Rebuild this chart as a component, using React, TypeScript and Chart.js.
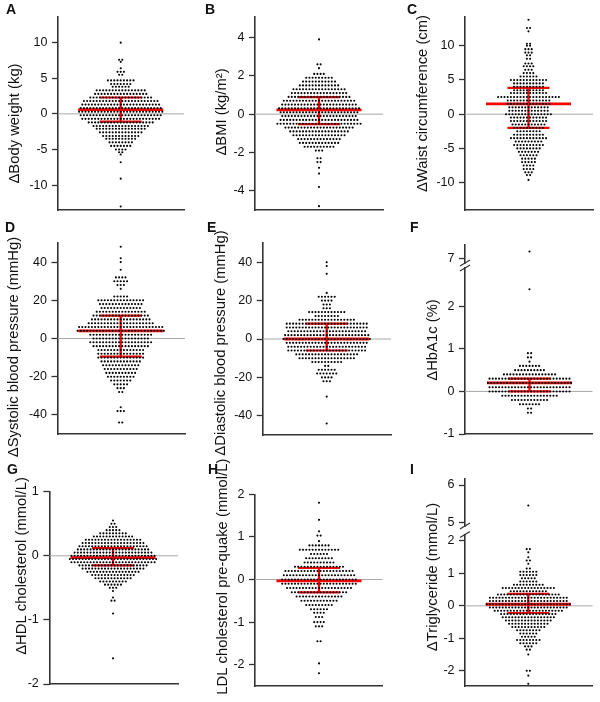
import React, { useEffect, useRef } from "react";
import { Chart, registerables } from "chart.js";

Chart.register(...registerables);

type Row = [number, number]; // [value, number of participants at that value]

// ---------- A: ΔBody weight (kg) ----------
const bodyWeightRows: Row[] = [
  [10.0, 1], [7.6, 2], [7.3, 1], [6.4, 1], [5.9, 3], [5.5, 2], [4.7, 9], [4.2, 7], [3.8, 6],
  [3.3, 16], [2.8, 17], [2.3, 20], [1.8, 24], [1.3, 25], [0.8, 26], [0.3, 27], [-0.2, 26],
  [-0.7, 25], [-1.2, 21], [-1.7, 18], [-2.1, 16], [-2.6, 14], [-3.1, 12], [-3.5, 10], [-4.0, 8],
  [-4.5, 7], [-5.0, 4], [-5.4, 2], [-5.7, 1], [-6.8, 1], [-9.1, 1], [-13.0, 1],
];
const bodyWeightSummary = [0.6, 2.3, -1.1]; // centre, upper, lower
const bodyWeightTicks = [10, 5, 0, -5, -10];

// ---------- B: ΔBMI (kg/m²) ----------
const bmiRows: Row[] = [
  [3.9, 1], [2.6, 2], [2.4, 1], [2.1, 4], [1.9, 9], [1.7, 11], [1.5, 13], [1.3, 17], [1.1, 18],
  [0.9, 20], [0.7, 23], [0.5, 24], [0.3, 26], [0.1, 25], [-0.1, 24], [-0.3, 25], [-0.5, 27],
  [-0.7, 22], [-0.9, 19], [-1.1, 17], [-1.3, 14], [-1.5, 13], [-1.7, 10], [-1.9, 3], [-2.3, 2],
  [-2.5, 2], [-2.8, 1], [-3.1, 1], [-3.8, 1], [-4.8, 1],
];
const bmiSummary = [0.22, 0.89, -0.52];
const bmiTicks = [4, 2, 0, -2, -4];

// ---------- C: ΔWaist circumference (cm) ----------
const waistRows: Row[] = [
  [13.8, 1], [12.6, 2], [12.1, 1], [10.3, 2], [10.0, 2], [9.5, 3], [9.0, 3], [8.6, 2], [8.1, 2],
  [7.4, 3], [7.0, 4], [6.5, 3], [6.0, 4], [5.5, 6], [5.0, 12], [4.5, 10], [4.0, 10], [3.5, 10],
  [3.1, 12], [2.5, 20], [2.0, 14], [1.5, 14], [1.0, 13], [0.5, 13], [0.0, 15], [-0.5, 12],
  [-1.0, 12], [-1.5, 11], [-2.0, 10], [-2.5, 8], [-3.0, 10], [-3.5, 12], [-4.0, 9], [-4.5, 10],
  [-5.0, 8], [-5.5, 7], [-6.0, 6], [-6.5, 5], [-7.0, 5], [-7.5, 4], [-8.0, 4], [-8.5, 3],
  [-8.9, 2], [-9.6, 1],
];
const waistSummary = [1.5, 3.85, -2.0];
const waistTicks = [10, 5, 0, -5, -10];

// ---------- D: ΔSystolic blood pressure (mmHg) ----------
const sbpRows: Row[] = [
  [48, 1], [42, 1], [40, 1], [36, 1], [32, 4], [30, 5], [28, 3], [26, 1], [22, 5], [20, 15],
  [18, 14], [16, 13], [14, 16], [12, 18], [10, 19], [8, 21], [6, 27], [4, 28], [2, 20], [0, 18],
  [-2, 20], [-4, 18], [-6, 15], [-8, 15], [-10, 15], [-12, 13], [-14, 12], [-16, 11], [-18, 10],
  [-20, 9], [-22, 7], [-24, 5], [-26, 3], [-28, 2], [-36, 1], [-38, 3], [-44, 2],
];
const sbpSummary = [4, 12, -9.5];
const sbpTicks = [40, 20, 0, -20, -40];

// ---------- E: ΔDiastolic blood pressure (mmHg) ----------
const dbpRows: Row[] = [
  [40, 1], [38, 1], [34, 1], [24, 1], [22, 6], [20, 4], [18, 3], [16, 3], [14, 12], [12, 8],
  [10, 18], [8, 26], [6, 26], [4, 25], [2, 27], [0, 28], [-2, 26], [-4, 25], [-6, 25], [-8, 20],
  [-10, 18], [-12, 10], [-14, 2], [-16, 6], [-18, 7], [-20, 4], [-22, 3], [-30, 1], [-44, 1],
];
const dbpSummary = [0, 8, -6];
const dbpTicks = [40, 20, 0, -20, -40];

// ---------- F: ΔHbA1c (%) (broken axis) ----------
const hba1cUpperRows: Row[] = [[7.2, 1]];
const hba1cRows: Row[] = [
  [2.4, 1], [0.9, 2], [0.8, 2], [0.7, 1], [0.6, 7], [0.5, 10], [0.4, 17], [0.3, 26], [0.2, 27],
  [0.1, 26], [0.0, 26], [-0.1, 18], [-0.2, 12], [-0.3, 7], [-0.4, 2], [-0.5, 2],
];
const hba1cSummary = [0.2, 0.3, 0.0];
const hba1cUpperTicks = [7];
const hba1cTicks = [2, 1, 0, -1];

// ---------- G: ΔHDL cholesterol (mmol/L) ----------
const hdlRows: Row[] = [
  [0.55, 1], [0.5, 2], [0.45, 3], [0.4, 5], [0.35, 9], [0.3, 13], [0.25, 18], [0.2, 20],
  [0.15, 22], [0.1, 23], [0.05, 25], [0.0, 27], [-0.05, 28], [-0.1, 27], [-0.15, 22], [-0.2, 20],
  [-0.25, 17], [-0.3, 14], [-0.35, 12], [-0.4, 9], [-0.45, 6], [-0.5, 3], [-0.55, 1], [-0.65, 1],
  [-0.7, 2], [-0.9, 1], [-1.6, 1],
];
const hdlSummary = [-0.03, 0.12, -0.15];
const hdlTicks = [1, 0, -1, -2];

// ---------- H: LDL cholesterol pre-quake (mmol/L) ----------
const ldlRows: Row[] = [
  [1.8, 1], [1.4, 1], [1.13, 1], [1.03, 2], [0.9, 1], [0.8, 7], [0.7, 13], [0.6, 6], [0.5, 9],
  [0.4, 10], [0.3, 16], [0.2, 22], [0.1, 23], [0.0, 24], [-0.1, 24], [-0.2, 21], [-0.3, 18],
  [-0.4, 15], [-0.5, 12], [-0.6, 9], [-0.7, 6], [-0.78, 4], [-0.88, 3], [-1.0, 4], [-1.1, 3],
  [-1.45, 2], [-1.97, 1], [-2.2, 1],
];
const ldlSummary = [-0.03, 0.27, -0.3];
const ldlTicks = [2, 1, 0, -1, -2];

// ---------- I: ΔTriglyceride (mmol/L) (broken axis) ----------
const tgUpperRows: Row[] = [[5.45, 1]];
const tgRows: Row[] = [
  [1.75, 2], [1.65, 1], [1.5, 1], [1.4, 2], [1.3, 1], [1.15, 2], [1.05, 6], [0.95, 6], [0.85, 5],
  [0.75, 6], [0.65, 10], [0.55, 17], [0.45, 12], [0.35, 20], [0.25, 25], [0.15, 25], [0.05, 27],
  [-0.05, 25], [-0.15, 22], [-0.25, 18], [-0.35, 17], [-0.45, 15], [-0.55, 13], [-0.65, 11],
  [-0.75, 8], [-0.85, 6], [-0.95, 5], [-1.05, 8], [-1.15, 6], [-1.25, 3], [-1.35, 2], [-1.5, 1],
  [-2.0, 2], [-2.15, 1], [-2.4, 1],
];
const tgSummary = [0.05, 0.37, -0.22];
const tgUpperTicks = [6, 5];
const tgTicks = [2, 1, 0, -1, -2];

const panelLetters = ["A", "B", "C", "D", "E", "F", "G", "H", "I"];
const panelTitles = [
  "ΔBody weight (kg)",
  "ΔBMI (kg/m²)",
  "ΔWaist circumference (cm)",
  "ΔSystolic blood pressure (mmHg)",
  "ΔDiastolic blood pressure (mmHg)",
  "ΔHbA1c (%)",
  "ΔHDL cholesterol (mmol/L)",
  "LDL cholesterol pre-quake (mmol/L)",
  "ΔTriglyceride (mmol/L)",
];

// ---------- styling / layout ----------
const FONT = '"Liberation Sans", Arial, Helvetica, sans-serif';
const PITCH = 3.2; // horizontal spacing of dots in a swarm row (px)
const DOT_R = 1.05;
const MEAN_HALF = 42.5;
const BAR_HALF = 21;
const RED = "#ff0000";
const AXIS = "#333333";

interface Upper {
  rows: Row[];
  ticks: number[];
  min: number;
  max: number;
  bottom: number; // px (local) where upper segment ends
  gapBottom: number; // px (local) where lower segment starts
}

interface PanelSpec {
  idx: number;
  x: number; y: number; w: number; h: number; // canvas box
  axisX: number; top: number; bottom: number; right: number; centerX: number;
  labelX: number; labelY: number; letterX: number; letterY: number;
  min: number; max: number; ticks: number[];
  rows: Row[]; summary: number[];
  upper?: Upper;
}

const PANELS: PanelSpec[] = [
  { idx: 0, x: 0, y: 0, w: 200, h: 225, axisX: 58, top: 17, bottom: 210, right: 184, centerX: 120.7,
    labelX: 14.5, labelY: 123.5, letterX: 6, letterY: 10, min: -13.5, max: 13.6, ticks: bodyWeightTicks,
    rows: bodyWeightRows, summary: bodyWeightSummary },
  { idx: 1, x: 200, y: 0, w: 200, h: 225, axisX: 55, top: 17, bottom: 210, right: 183, centerX: 119,
    labelX: 22, labelY: 112, letterX: 5, letterY: 10, min: -5, max: 5.07, ticks: bmiTicks,
    rows: bmiRows, summary: bmiSummary },
  { idx: 2, x: 400, y: 0, w: 200, h: 225, axisX: 65, top: 17, bottom: 210, right: 193, centerX: 128.5,
    labelX: 23, labelY: 103.5, letterX: 7, letterY: 10, min: -14, max: 14.2, ticks: waistTicks,
    rows: waistRows, summary: waistSummary },
  { idx: 3, x: 0, y: 215, w: 200, h: 245, axisX: 57.5, top: 28, bottom: 219, right: 185, centerX: 120.7,
    labelX: 14, labelY: 132, letterX: 5, letterY: 13, min: -50, max: 50, ticks: sbpTicks,
    rows: sbpRows, summary: sbpSummary },
  { idx: 4, x: 200, y: 215, w: 200, h: 245, axisX: 62.7, top: 28, bottom: 220, right: 191, centerX: 126.7,
    labelX: 21, labelY: 128, letterX: 7, letterY: 13, min: -50, max: 50, ticks: dbpTicks,
    rows: dbpRows, summary: dbpSummary },
  { idx: 5, x: 400, y: 215, w: 200, h: 245, axisX: 65, top: 30, bottom: 219, right: 192.7, centerX: 129.5,
    labelX: 33, labelY: 125, letterX: 10, letterY: 13, min: -1, max: 2.9, ticks: hba1cTicks,
    rows: hba1cRows, summary: hba1cSummary,
    upper: { rows: hba1cUpperRows, ticks: hba1cUpperTicks, min: 6.85, max: 7.4, bottom: 48, gapBottom: 53 } },
  { idx: 6, x: 0, y: 452, w: 200, h: 250, axisX: 49.3, top: 39.7, bottom: 232, right: 178, centerX: 113,
    labelX: 21.7, labelY: 114, letterX: 7, letterY: 18, min: -2, max: 1, ticks: hdlTicks,
    rows: hdlRows, summary: hdlSummary },
  { idx: 7, x: 200, y: 452, w: 200, h: 250, axisX: 55, top: 42.3, bottom: 234, right: 182.7, centerX: 119,
    labelX: 23.3, labelY: 124.7, letterX: 8, letterY: 18, min: -2.5, max: 2, ticks: ldlTicks,
    rows: ldlRows, summary: ldlSummary },
  { idx: 8, x: 400, y: 452, w: 200, h: 250, axisX: 65, top: 26.3, bottom: 234, right: 192.7, centerX: 128.3,
    labelX: 33, labelY: 125, letterX: 10, letterY: 18, min: -2.47, max: 2.2, ticks: tgTicks,
    rows: tgRows, summary: tgSummary,
    upper: { rows: tgUpperRows, ticks: tgUpperTicks, min: 4.9, max: 6.18, bottom: 74, gapBottom: 82.5 } },
];

// beeswarm layout: each row of equal values is spread horizontally around the centre
function swarm(rows: Row[]) {
  const pts: { x: number; y: number }[] = [];
  for (const [v, n] of rows) {
    for (let i = 0; i < n; i++) pts.push({ x: (i - (n - 1) / 2) * PITCH, y: v });
  }
  return pts;
}

const decorPlugin = {
  id: "decor",
  afterDraw(chart: any, _args: any, opts: any) {
    const ctx = chart.ctx as CanvasRenderingContext2D;
    ctx.save();
    ctx.fillStyle = "#111";
    ctx.font = `bold 14px ${FONT}`;
    ctx.textAlign = "left";
    ctx.textBaseline = "middle";
    ctx.fillText(opts.letter, opts.letterX, opts.letterY);
    ctx.font = `14.8px ${FONT}`;
    ctx.translate(opts.labelX, opts.labelY);
    ctx.rotate(-Math.PI / 2);
    ctx.textAlign = "center";
    ctx.fillText(opts.title, 0, 0);
    ctx.restore();
    if (opts.breaks && opts.breaks.length) {
      ctx.save();
      ctx.strokeStyle = AXIS;
      ctx.lineWidth = 1.3;
      for (const by of opts.breaks) {
        ctx.beginPath();
        ctx.moveTo(opts.axisX - 5, by + 3);
        ctx.lineTo(opts.axisX + 5, by - 3);
        ctx.stroke();
      }
      ctx.restore();
    }
  },
};

function yScale(s: PanelSpec, min: number, max: number, ticks: number[]) {
  return {
    type: "linear",
    position: "left",
    min,
    max,
    afterFit: (sc: any) => { sc.width = s.axisX; },
    afterBuildTicks: (sc: any) => { sc.ticks = ticks.map((v) => ({ value: v })); },
    ticks: {
      autoSkip: false,
      font: { family: FONT, size: 12.5 },
      color: "#111",
      padding: 4.5,
      callback: (v: any) => String(v),
    },
    grid: { display: true, drawOnChartArea: false, drawTicks: true, tickLength: 6, tickWidth: 1.3, tickColor: AXIS, color: AXIS },
    border: { display: true, color: AXIS, width: 1.6 },
  };
}

function buildConfig(s: PanelSpec): any {
  const xMin = -(s.centerX - s.axisX);
  const xMax = s.right - s.centerX;
  const [mid, hi, lo] = s.summary;
  const seg = (x0: number, x1: number, y0: number, y1: number, w: number, color: string) => ({
    data: [{ x: x0, y: y0 }, { x: x1, y: y1 }],
    yAxisID: "y",
    showLine: true,
    borderColor: color,
    borderWidth: w,
    pointRadius: 0,
    fill: false,
  });
  const dots = (rows: Row[], axis: string) => ({
    data: swarm(rows),
    yAxisID: axis,
    showLine: false,
    pointRadius: DOT_R,
    pointBackgroundColor: "#000",
    pointBorderWidth: 0,
    pointHoverRadius: 0,
  });

  const datasets: any[] = [dots(s.rows, "y")];
  if (s.upper) datasets.push(dots(s.upper.rows, "yTop"));
  datasets.push(seg(0, 0, lo, hi, 2.3, RED));
  datasets.push(seg(-MEAN_HALF, MEAN_HALF, mid, mid, 2.8, RED));
  datasets.push(seg(-BAR_HALF, BAR_HALF, hi, hi, 2.2, RED));
  datasets.push(seg(-BAR_HALF, BAR_HALF, lo, lo, 2.2, RED));
  datasets.push(seg(xMin, xMax, 0, 0, 1, "#a8a8a8"));

  const scales: any = {
    x: {
      type: "linear",
      min: xMin,
      max: xMax,
      afterFit: (sc: any) => { sc.height = 0; },
      ticks: { display: false },
      grid: { display: false },
      border: { display: true, color: AXIS, width: 1.6 },
    },
  };
  const breaks: number[] = [];
  if (s.upper) {
    const u = s.upper;
    scales.y = { ...yScale(s, s.min, s.max, s.ticks), stack: "brk", stackWeight: s.bottom - u.gapBottom, weight: 1 };
    scales.yGap = {
      type: "linear", position: "left", min: 0, max: 1, stack: "brk",
      stackWeight: u.gapBottom - u.bottom, weight: 2,
      afterFit: (sc: any) => { sc.width = s.axisX; },
      ticks: { display: false }, grid: { display: false }, border: { display: false },
    };
    scales.yTop = { ...yScale(s, u.min, u.max, u.ticks), stack: "brk", stackWeight: u.bottom - s.top, weight: 3 };
    breaks.push(u.bottom, u.gapBottom);
  } else {
    scales.y = yScale(s, s.min, s.max, s.ticks);
  }

  return {
    type: "scatter",
    data: { datasets },
    options: {
      animation: false,
      responsive: false,
      devicePixelRatio: 1,
      events: [],
      layout: { padding: { left: 0, top: s.top, right: s.w - s.right, bottom: s.h - s.bottom } },
      plugins: {
        legend: { display: false },
        tooltip: { enabled: false },
        decor: {
          letter: panelLetters[s.idx],
          title: panelTitles[s.idx],
          letterX: s.letterX,
          letterY: s.letterY,
          labelX: s.labelX,
          labelY: s.labelY,
          axisX: s.axisX,
          breaks,
        },
      },
      scales,
    },
    plugins: [decorPlugin],
  };
}

function Panel({ spec }: { spec: PanelSpec }) {
  const ref = useRef<HTMLCanvasElement>(null);
  useEffect(() => {
    if (!ref.current) return;
    const chart = new Chart(ref.current, buildConfig(spec));
    return () => chart.destroy();
  }, [spec]);
  return (
    <canvas
      ref={ref}
      width={spec.w}
      height={spec.h}
      style={{ position: "absolute", left: spec.x, top: spec.y, width: spec.w, height: spec.h }}
    />
  );
}

export default function App() {
  return (
    <div style={{ position: "absolute", left: 0, top: 0, width: 600, height: 702, background: "#fff" }}>
      {PANELS.map((p) => (
        <Panel key={p.idx} spec={p} />
      ))}
    </div>
  );
}
